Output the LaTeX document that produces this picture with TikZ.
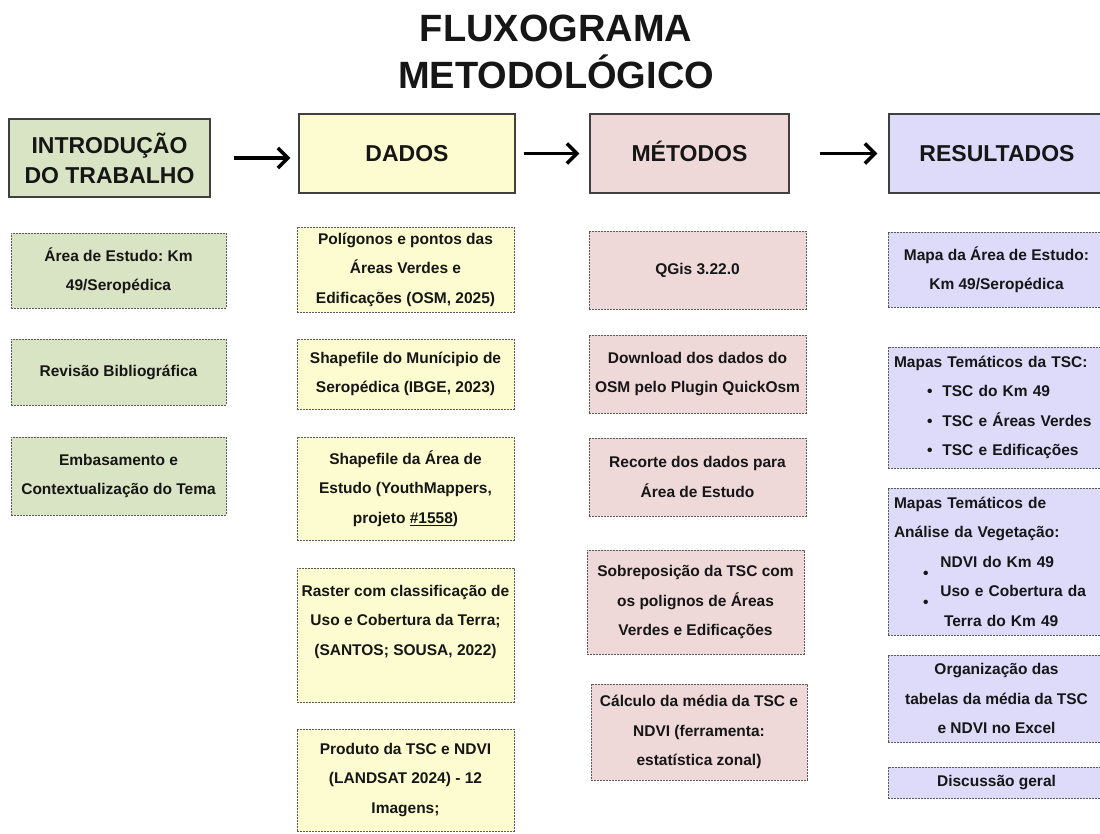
\documentclass[tikz,border=0pt]{standalone}
\usepackage{fontspec}
\setmainfont{Liberation Sans}
\usetikzlibrary{arrows.meta}
\frenchspacing

\definecolor{verde}{RGB}{217,228,196}
\definecolor{amarelo}{RGB}{252,252,208}
\definecolor{rosa}{RGB}{239,216,216}
\definecolor{lilas}{RGB}{221,218,250}
\definecolor{texto}{RGB}{22,22,22}

\tikzset{
    titulo/.style={align=center, text=texto, inner sep=0pt, font=\fontsize{38}{47}\selectfont\bfseries},
    cabecalho/.style={draw=black!75, line width=1.1pt, inner sep=0pt, align=center, text=texto, font=\fontsize{23}{30}\selectfont\bfseries},
    caixa/.style={draw=black!65, line width=0.8pt, dash pattern=on 2pt off 1pt, inner sep=0pt, align=center, text=texto, font=\fontsize{15.5}{29.5}\selectfont\bfseries},
    lista/.style={caixa, align=left, text width=205pt},
    seta/.style={line width=3.6pt, -{Straight Barb[length=10pt, width=20pt]}}
}

\begin{document}
\begin{tikzpicture}[x=1pt, y=-1pt]
    \path[use as bounding box] (0, 0) rectangle (1100, 833);
    \clip (0, 0) rectangle (1100, 833);

    \node[titulo] (titulo) at (556, 52) {FLUXOGRAMA\\METODOLÓGICO};

    \node[cabecalho, fill=verde, minimum width=201pt, minimum height=78pt] (intro) at (109.5, 158) {INTRODUÇÃO\\DO TRABALHO};
    \node[cabecalho, fill=amarelo, minimum width=216pt, minimum height=79pt] (dados) at (407, 153.5) {DADOS};
    \node[cabecalho, fill=rosa, minimum width=199pt, minimum height=79pt, text height=16.5pt, text depth=0pt] (metodos) at (689.5, 153.5) {MÉTODOS};
    \node[cabecalho, fill=lilas, minimum width=216pt, minimum height=79pt] (resultados) at (997, 153.5) {RESULTADOS};

    \draw[seta, shorten <=23pt, shorten >=8pt] (intro.east) -- (intro.east -| dados.west);
    \draw[seta, shorten <=8pt, shorten >=10pt] (dados.east) -- (metodos.west);
    \draw[seta, shorten <=30pt, shorten >=11pt] (metodos.east) -- (resultados.west);

    \node[caixa, fill=verde, minimum width=215pt, minimum height=75pt] (area) at (118.5, 270.5) {Área de Estudo: Km\\49/Seropédica};
    \node[caixa, fill=verde, minimum width=215pt, minimum height=66pt] (revisao) at (118.5, 372) {Revisão Bibliográfica};
    \node[caixa, fill=verde, minimum width=215pt, minimum height=78pt] (embasamento) at (118.5, 476) {Embasamento e\\Contextualização do Tema};

    \node[caixa, fill=amarelo, minimum width=217pt, minimum height=85pt] (poligonos) at (405.5, 269.5) {Polígonos e pontos das\\Áreas Verdes e\\Edificações (OSM, 2025)};
    \node[caixa, fill=amarelo, minimum width=217pt, minimum height=70pt] (municipio) at (405.5, 374) {Shapefile do Munícipio de\\Seropédica (IBGE, 2023)};
    \node[caixa, fill=amarelo, minimum width=217pt, minimum height=103pt] (shapearea) at (405.5, 488.5) {Shapefile da Área de\\Estudo (YouthMappers,\\projeto \underline{\#1558})};
    \node[caixa, fill=amarelo, minimum width=217pt, minimum height=134pt] (raster) at (405.5, 635) {Raster com classificação de\\Uso e Cobertura da Terra;\\(SANTOS; SOUSA, 2022)\\\mbox{}};
    \node[caixa, fill=amarelo, minimum width=217pt, minimum height=102pt] (produto) at (405.5, 780) {Produto da TSC e NDVI\\(LANDSAT 2024) - 12\\Imagens;};

    \node[caixa, fill=rosa, minimum width=217pt, minimum height=78pt] (qgis) at (697.5, 270) {QGis 3.22.0};
    \node[caixa, fill=rosa, minimum width=217pt, minimum height=78pt] (download) at (697.5, 374) {Download dos dados do\\OSM pelo Plugin QuickOsm};
    \node[caixa, fill=rosa, minimum width=217pt, minimum height=78pt] (recorte) at (697.5, 477) {Recorte dos dados para\\Área de Estudo};
    \node[caixa, fill=rosa, minimum width=217pt, minimum height=104pt] (sobreposicao) at (695.5, 602) {Sobreposição da TSC com\\os polignos de Áreas\\Verdes e Edificações};
    \node[caixa, fill=rosa, minimum width=216pt, minimum height=96pt] (calculo) at (699, 732) {Cálculo da média da TSC e\\NDVI (ferramenta:\\estatística zonal)};

    \node[caixa, fill=lilas, minimum width=217pt, minimum height=75pt] (mapa) at (996.5, 269.5) {Mapa da Área de Estudo:\\Km 49/Seropédica};
    \node[lista, fill=lilas, minimum width=217pt, minimum height=121pt] (tematicos) at (996.5, 407.5) {Mapas Temáticos da TSC:\\
        \hspace*{33pt}\textbullet\hspace{10pt}TSC do Km 49\\
        \hspace*{33pt}\textbullet\hspace{10pt}TSC e Áreas Verdes\\
        \hspace*{33pt}\textbullet\hspace{10pt}TSC e Edificações};
    \node[lista, fill=lilas, minimum width=217pt, minimum height=147pt] (vegetacao) at (996.5, 561.5) {Mapas Temáticos de\\Análise da Vegetação:\\
        \hspace*{29pt}\raisebox{-11pt}{\textbullet}\hspace{12pt}NDVI do Km 49\\
        \hspace*{29pt}\raisebox{-11pt}{\textbullet}\hspace{12pt}Uso e Cobertura da\\
        \hspace*{50pt}Terra do Km 49};
    \node[caixa, fill=lilas, minimum width=217pt, minimum height=87pt] (organizacao) at (996.5, 698.5) {Organização das\\tabelas da média da TSC\\e NDVI no Excel};
    \node[caixa, fill=lilas, minimum width=217pt, minimum height=31pt] (discussao) at (996.5, 782.5) {Discussão geral};
\end{tikzpicture}
\end{document}
